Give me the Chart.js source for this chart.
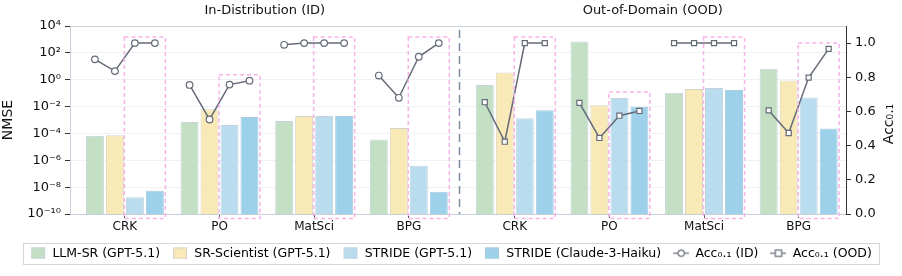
<!DOCTYPE html>
<html>
<head>
<meta charset="utf-8">
<script src="https://cdn.jsdelivr.net/npm/chart.js@4.4.1/dist/chart.umd.min.js"></script>
<style>
  html, body { margin: 0; padding: 0; background: #ffffff; }
  #wrap { width: 902px; height: 276px; position: relative; }
</style>
</head>
<body>
<div id="wrap"><canvas id="c" width="902" height="276"></canvas></div>
<script>
// ---------------- DATA ----------------
const categories = ['CRK', 'PO', 'MatSci', 'BPG', 'CRK', 'PO', 'MatSci', 'BPG'];
const panelTitles = ['In-Distribution (ID)', 'Out-of-Domain (OOD)'];
const seriesNames = ['LLM-SR (GPT-5.1)', 'SR-Scientist (GPT-5.1)', 'STRIDE (GPT-5.1)', 'STRIDE (Claude-3-Haiku)'];
const rightAxisLabel = 'Acc₀.₁';

// NMSE (log scale), one value per category (ID x4, then OOD x4)
const nmseLLMSR    = [6.6e-5, 7.0e-4, 8.3e-4, 3.5e-5, 0.41, 700, 0.107, 6.5];
const nmseSRSci    = [7.4e-5, 6.3e-3, 2.0e-3, 2.5e-4, 3.5, 0.0126, 0.20, 0.87];
const nmseStrideGPT    = [1.8e-9, 4.2e-4, 2.0e-3, 4.0e-7, 1.35e-3, 0.043, 0.24, 0.048];
const nmseStrideClaude = [5.4e-9, 1.7e-3, 2.0e-3, 4.6e-9, 5.4e-3, 9.5e-3, 0.17, 2.3e-4];

// Acc_0.1 per method (LLM-SR, SR-Scientist, STRIDE GPT, STRIDE Claude) per category
const accID = [
  [0.905, 0.836, 1.0, 1.0],   // CRK
  [0.755, 0.553, 0.757, 0.78],// PO
  [0.99, 1.0, 1.0, 1.0],      // MatSci
  [0.81, 0.68, 0.92, 1.0]     // BPG
];
const accOOD = [
  [0.654, 0.423, 1.0, 1.0],   // CRK
  [0.65, 0.445, 0.575, 0.603],// PO
  [1.0, 1.0, 1.0, 1.0],       // MatSci
  [0.606, 0.474, 0.798, 0.966]// BPG
];

const nmseTicks = [-10, -8, -6, -4, -2, 0, 2, 4];
const accTicks = [0, 0.2, 0.4, 0.6, 0.8, 1.0];

// ---------------- LAYOUT HELPERS ----------------
const GAP = 0.12;                 // extra spacing between ID and OOD panels (x units)
const CAT_PCT = 0.845, BAR_PCT = 0.9, NSER = 4;
const centers = categories.map((_, i) => i + (i >= 4 ? GAP : 0));
const slot = CAT_PCT / NSER;
const offs = [-1.5, -0.5, 0.5, 1.5].map(k => k * slot);

const barColors = ['#c3e0c5', '#f8e9b7', '#b9ddef', '#9dd1ea'];
const barBorders = ['#c6d3d9', '#d6d4c4', '#c2d3de', '#a9cbe0'];
const lineColor = '#666b78';

function barData(vals) { return vals.map((v, i) => ({ x: centers[i], y: v })); }
function lineData(acc, base) {
  const out = [];
  acc.forEach((grp, g) => {
    const c = centers[base + g];
    grp.forEach((v, k) => out.push({ x: c + offs[k], y: v }));
    if (g < acc.length - 1) out.push({ x: c + 0.5, y: null });
  });
  return out;
}

const supMap = { '-': '⁻', '0': '⁰', '1': '¹', '2': '²', '3': '³', '4': '⁴', '5': '⁵', '6': '⁶', '7': '⁷', '8': '⁸', '9': '⁹' };
function sup(n) { return String(n).split('').map(ch => supMap[ch]).join(''); }

function makeIcon(kind, fill, stroke) {
  const cv = document.createElement('canvas');
  cv.width = 16; cv.height = 12;
  const c = cv.getContext('2d');
  if (kind === 'bar') {
    c.fillStyle = fill; c.fillRect(1, 0.5, 14, 11);
    c.strokeStyle = stroke; c.lineWidth = 1; c.strokeRect(1.5, 1, 13, 10);
  } else {
    c.strokeStyle = lineColor; c.lineWidth = 1.2;
    c.beginPath(); c.moveTo(0, 6); c.lineTo(16, 6); c.stroke();
    c.fillStyle = '#fff';
    if (kind === 'circle') { c.beginPath(); c.arc(8, 6, 3.2, 0, Math.PI * 2); c.fill(); c.stroke(); }
    else { c.fillRect(4.8, 2.8, 6.4, 6.4); c.strokeRect(4.8, 2.8, 6.4, 6.4); }
  }
  return cv;
}

const icons = [
  makeIcon('bar', barColors[0], barBorders[0]),
  makeIcon('bar', barColors[1], barBorders[1]),
  makeIcon('bar', barColors[2], barBorders[2]),
  makeIcon('bar', barColors[3], barBorders[3]),
  makeIcon('circle'),
  makeIcon('rect')
];

const FONT = "'DejaVu Sans', sans-serif";

// ---------------- PLUGINS ----------------
const decor = {
  id: 'decor',
  afterDatasetsDraw(chart) {
    const { ctx, chartArea: a, scales } = chart;
    const xs = scales.x;
    ctx.save();
    // top border
    ctx.strokeStyle = '#c9d3dc'; ctx.lineWidth = 1;
    ctx.beginPath(); ctx.moveTo(a.left, a.top + 0.5); ctx.lineTo(a.right, a.top + 0.5); ctx.stroke();
    // separator
    const sx = Math.round(xs.getPixelForValue((centers[3] + centers[4]) / 2 - 0.03)) + 0.5;
    ctx.strokeStyle = '#7d8ca3'; ctx.lineWidth = 1.5; ctx.setLineDash([8, 5]);
    ctx.beginPath(); ctx.moveTo(sx, a.top + 4); ctx.lineTo(sx, a.bottom); ctx.stroke();
    // highlight boxes around STRIDE bars
    ctx.strokeStyle = '#f6b4ea'; ctx.lineWidth = 1.5; ctx.setLineDash([4, 3]);
    const m2 = chart.getDatasetMeta(2).data, m3 = chart.getDatasetMeta(3).data;
    const lID = chart.getDatasetMeta(4).data, lOOD = chart.getDatasetMeta(5).data;
    for (let i = 0; i < categories.length; i++) {
      const b2 = m2[i], b3 = m3[i];
      const left = b2.x - b2.width / 2 - 1.5, right = b3.x + b3.width / 2 + 1.5;
      const g = i % 4;
      const pts = i < 4 ? lID : lOOD;
      const p2 = pts[g * 5 + 2], p3 = pts[g * 5 + 3];
      const top = Math.min(b2.y, b3.y, p2.y, p3.y) - 6;
      const bottom = a.bottom + 4.5;
      ctx.strokeRect(left, top, right - left, bottom - top);
    }
    ctx.setLineDash([]);
    // panel titles
    ctx.fillStyle = '#111'; ctx.font = '13px ' + FONT; ctx.textAlign = 'center'; ctx.textBaseline = 'middle';
    ctx.fillText(panelTitles[0], (a.left + sx) / 2, 11);
    ctx.fillText(panelTitles[1], (sx + a.right) / 2, 11);
    // right axis title (reads bottom-to-top)
    ctx.save();
    ctx.translate(889, (a.top + a.bottom) / 2 + 4);
    ctx.rotate(-Math.PI / 2);
    ctx.font = '14px ' + FONT;
    ctx.fillText(rightAxisLabel, 0, 0);
    ctx.restore();
    ctx.restore();
  },
  afterDraw(chart) {
    const lg = chart.legend;
    if (!lg || !lg.legendHitBoxes || !lg.legendHitBoxes.length) return;
    const hb = lg.legendHitBoxes;
    let l = Infinity, r = -Infinity, t = Infinity, b = -Infinity;
    hb.forEach(h => { l = Math.min(l, h.left); r = Math.max(r, h.left + h.width); t = Math.min(t, h.top); b = Math.max(b, h.top + h.height); });
    const ctx = chart.ctx;
    ctx.save();
    ctx.strokeStyle = '#d6d6d6'; ctx.lineWidth = 1;
    ctx.strokeRect(Math.round(l - 7) + 0.5, Math.round(t - 4) + 0.5, Math.round(r - l + 14), Math.round(b - t + 8));
    ctx.restore();
  }
};

// ---------------- CHART ----------------
const datasets = [];
[nmseLLMSR, nmseSRSci, nmseStrideGPT, nmseStrideClaude].forEach((vals, k) => {
  datasets.push({
    type: 'bar', label: seriesNames[k], data: barData(vals), yAxisID: 'y', xAxisID: 'x',
    backgroundColor: barColors[k], borderColor: barBorders[k], borderWidth: 1,
    categoryPercentage: CAT_PCT, barPercentage: BAR_PCT, order: 2
  });
});
datasets.push({
  type: 'line', label: 'Acc₀.₁ (ID)', data: lineData(accID, 0), yAxisID: 'y1', xAxisID: 'x',
  borderColor: lineColor, borderWidth: 1.5, pointStyle: 'circle', pointRadius: 3.3,
  pointBackgroundColor: '#fff', pointBorderColor: lineColor, pointBorderWidth: 1.2, spanGaps: false, order: 1
});
datasets.push({
  type: 'line', label: 'Acc₀.₁ (OOD)', data: lineData(accOOD, 4), yAxisID: 'y1', xAxisID: 'x',
  borderColor: lineColor, borderWidth: 1.5, pointStyle: 'rect', pointRadius: 3.6,
  pointBackgroundColor: '#fff', pointBorderColor: lineColor, pointBorderWidth: 1.2, spanGaps: false, order: 1
});

new Chart(document.getElementById('c'), {
  type: 'bar',
  data: { datasets },
  plugins: [decor],
  options: {
    responsive: false,
    animation: false,
    devicePixelRatio: 1,
    layout: { padding: { left: 0, right: 0, top: 26, bottom: 6.5 } },
    plugins: {
      tooltip: { enabled: false },
      legend: {
        position: 'bottom',
        labels: {
          usePointStyle: true, pointStyleWidth: 16, padding: 12,
          color: '#111', font: { family: FONT, size: 12.5 },
          generateLabels(chart) {
            return chart.data.datasets.map((ds, i) => ({
              text: ds.label, pointStyle: icons[i], datasetIndex: i,
              fillStyle: '#fff', strokeStyle: '#fff', lineWidth: 0, hidden: false
            }));
          }
        }
      }
    },
    scales: {
      x: {
        type: 'linear', position: 'bottom', offset: false,
        min: centers[0] - 0.58, max: centers[7] + 0.5,
        afterBuildTicks(s) { s.ticks = centers.map(v => ({ value: v })); },
        afterFit(s) { s.height = 21; },
        ticks: {
          autoSkip: false, maxRotation: 0, padding: 2, color: '#111',
          font: { family: FONT, size: 12 },
          callback(v, i) { return categories[i]; }
        },
        grid: { display: true, offset: false, drawOnChartArea: false, drawTicks: true, tickLength: 4, color: '#555' },
        border: { display: true, color: '#c5cfd9', width: 1 }
      },
      y: {
        type: 'logarithmic', position: 'left',
        min: 1e-10, max: 1e4,
        afterBuildTicks(s) { s.ticks = nmseTicks.map(e => ({ value: Math.pow(10, e) })); },
        afterFit(s) { s.width = 70; },
        ticks: {
          color: '#111', padding: 4, font: { family: FONT, size: 13 },
          callback(v) { return '10' + sup(Math.round(Math.log10(v))); }
        },
        grid: { color: '#eff1f4', lineWidth: 1, tickLength: 5, tickColor: '#333' },
        border: { display: true, color: '#c5cfd9', width: 1 },
        title: { display: true, text: 'NMSE', color: '#111', font: { family: FONT, size: 14 }, padding: { top: 0, bottom: 2 } }
      },
      y1: {
        type: 'linear', position: 'right',
        min: 0, max: 1.1,
        afterBuildTicks(s) { s.ticks = accTicks.map(v => ({ value: v })); },
        afterFit(s) { s.width = 56; },
        ticks: {
          color: '#111', padding: 4, font: { family: FONT, size: 13 },
          callback(v) { return v.toFixed(1); }
        },
        grid: { drawOnChartArea: false, tickLength: 5, color: '#333' },
        border: { display: true, color: '#333', width: 1 }
      }
    }
  }
});
</script>
</body>
</html>
